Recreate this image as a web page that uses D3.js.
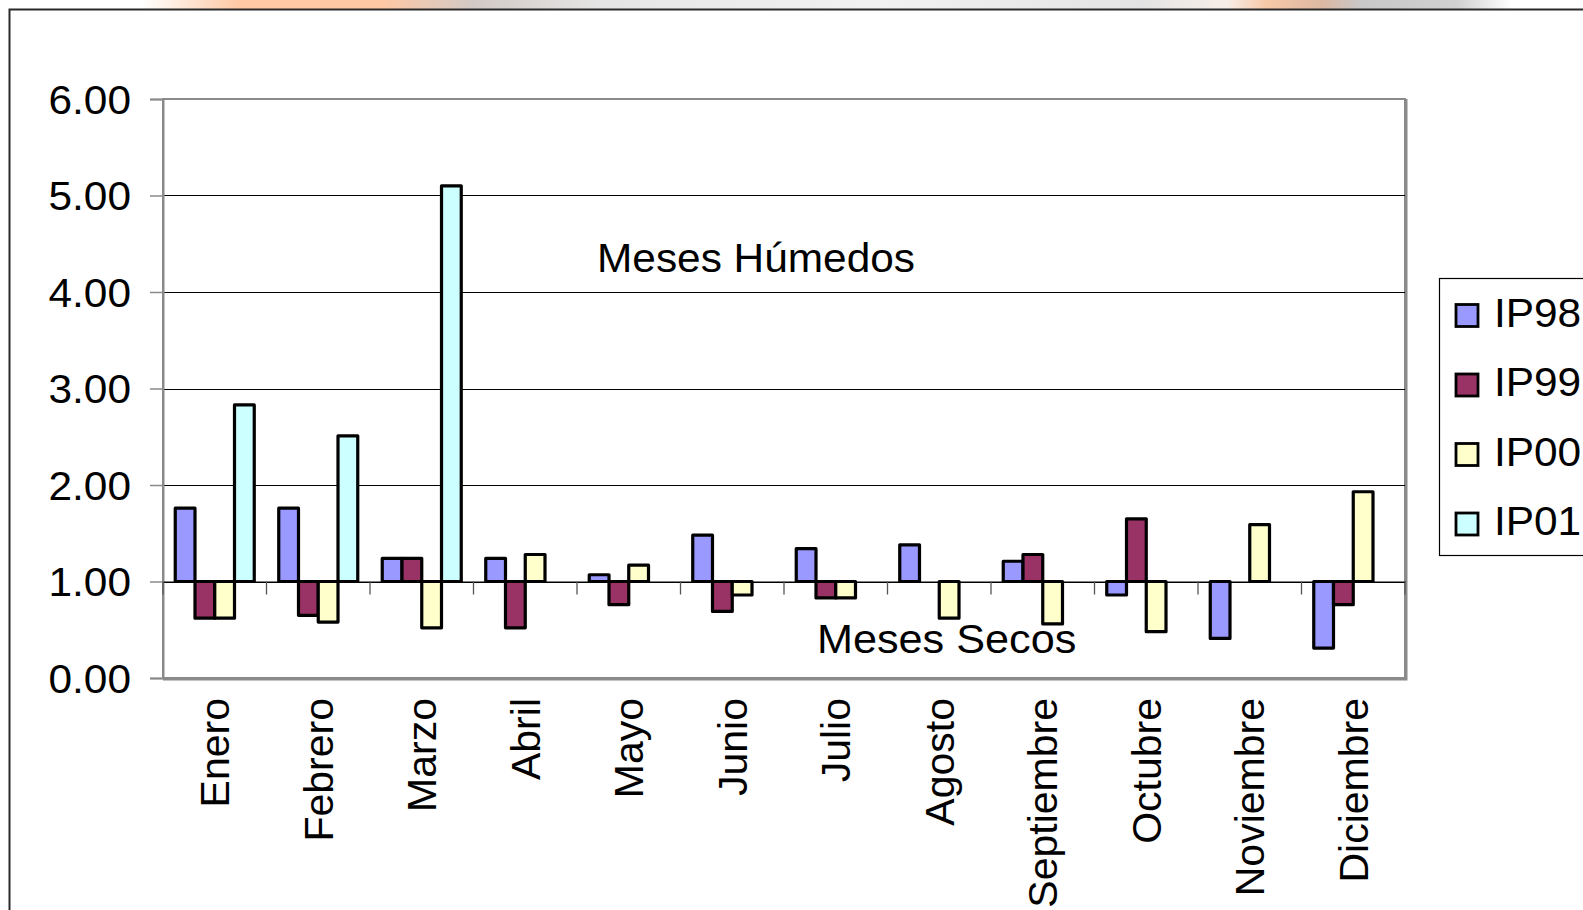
<!DOCTYPE html>
<html>
<head>
<meta charset="utf-8">
<script src="https://cdn.jsdelivr.net/npm/d3@7/dist/d3.min.js"></script>
<style>
  html, body { margin: 0; padding: 0; background: #ffffff; }
  svg { display: block; }
  text { font-family: "Liberation Sans", Arial, "DejaVu Sans", sans-serif; fill: #000; }
</style>
</head>
<body>
<svg id="chart" width="1583" height="910"></svg>
<script>
// Monthly precipitation indices (IP) per year, ratio to the monthly mean
const months = ["Enero", "Febrero", "Marzo", "Abril", "Mayo", "Junio",
                "Julio", "Agosto", "Septiembre", "Octubre", "Noviembre", "Diciembre"];
const seriesNames = ["IP98", "IP99", "IP00", "IP01"];
const ip98 = [1.76, 1.76, 1.24, 1.24, 1.07, 1.48, 1.34, 1.38, 1.21, 0.86, 0.41, 0.31];
const ip99 = [0.62, 0.65, 1.24, 0.52, 0.76, 0.69, 0.83, null, 1.28, 1.65, null, 0.76];
const ip00 = [0.62, 0.58, 0.52, 1.28, 1.17, 0.86, 0.83, 0.62, 0.56, 0.48, 1.59, 1.93];
const ip01 = [2.83, 2.51, 5.10, null, null, null, null, null, null, null, null, null];
const seriesColors = ["#9999FF", "#993366", "#FFFFCC", "#CCFFFF"];
const yTicks = [0, 1, 2, 3, 4, 5, 6];
const yTickLabels = ["0.00", "1.00", "2.00", "3.00", "4.00", "5.00", "6.00"];
const baseValue = 1;   // bars grow up or down from the 1.00 line
const notes = [
  { text: "Meses Húmedos", x: 597, y: 272, sx: 1.06 },
  { text: "Meses Secos",   x: 817, y: 653, sx: 1.08 }
];

const values = [ip98, ip99, ip00, ip01];
const TEXT_SX = 1.06;   // horizontal stretch of the chart lettering

const svg = d3.select("#chart");
const W = 1583, H = 910;

// ---- background strip with soft gradient above the frame ----
const defs = svg.append("defs");
const grad = defs.append("linearGradient").attr("id", "topStrip")
  .attr("x1", "0").attr("x2", "1").attr("y1", "0").attr("y2", "0");
[
  [0.00, "#ffffff"], [0.09, "#ffffff"], [0.15, "#ffc9a6"], [0.24, "#ffc8a4"],
  [0.30, "#d2cac6"], [0.38, "#e6e6e6"], [0.55, "#f2f2f2"], [0.72, "#e4e4e4"],
  [0.775, "#f6eee8"], [0.80, "#f8c8a8"], [0.835, "#dcb8a2"], [0.86, "#c8c8c8"],
  [0.92, "#d0d0d0"], [0.955, "#ffffff"], [1.00, "#ffffff"]
].forEach(([o, c]) => grad.append("stop").attr("offset", o).attr("stop-color", c));
svg.append("rect").attr("x", 0).attr("y", 0).attr("width", W).attr("height", 9)
  .attr("fill", "url(#topStrip)");

// outer frame (open to the right and bottom)
svg.append("path").attr("d", `M9.5,${H} V9.5 H${W}`)
  .attr("fill", "none").attr("stroke", "#2a2a2a").attr("stroke-width", 2);

// ---- scales ----
const plot = { left: 163, right: 1405, top: 99, bottom: 678 };
const y = d3.scaleLinear().domain([0, 6]).range([plot.bottom, plot.top]);
const x0 = d3.scaleBand().domain(months).range([plot.left, plot.right]).padding(0);
const x1 = d3.scaleBand().domain(seriesNames).range([0, x0.bandwidth()])
  .paddingInner(0).paddingOuter(0.62);

// ---- plot area ----
svg.append("rect")
  .attr("x", plot.left).attr("y", plot.top)
  .attr("width", plot.right - plot.left).attr("height", plot.bottom - plot.top)
  .attr("fill", "#ffffff").attr("stroke", "#8a8a8a").attr("stroke-width", 2);
svg.append("path")
  .attr("d", `M${plot.right + 1},${plot.top} V${plot.bottom + 1} H${plot.left}`)
  .attr("fill", "none").attr("stroke", "#8a8a8a").attr("stroke-width", 3);

// horizontal gridlines
svg.append("g").selectAll("line")
  .data(yTicks.filter(v => v > 0 && v < 6))
  .join("line")
  .attr("x1", plot.left).attr("x2", plot.right)
  .attr("y1", d => Math.round(y(d)) + 0.5).attr("y2", d => Math.round(y(d)) + 0.5)
  .attr("stroke", "#000").attr("stroke-width", 1);

// value axis
const yAxis = d3.axisLeft(y).tickValues(yTicks).tickSize(13).tickPadding(0)
  .tickFormat((d, i) => yTickLabels[i]);
const gy = svg.append("g").attr("transform", `translate(${plot.left},0)`).call(yAxis);
gy.select(".domain").attr("stroke", "#8a8a8a").attr("stroke-width", 2);
gy.selectAll(".tick line").attr("stroke", "#8a8a8a").attr("stroke-width", 1.5);
gy.selectAll(".tick text")
  .attr("x", 0).attr("dy", "0.35em")
  .attr("text-anchor", "end")
  .style("font-size", "40px")
  .attr("transform", `translate(-32,0) scale(${TEXT_SX},1)`);

// ---- bars ----
const rows = months.map((m, i) => ({
  month: m,
  items: seriesNames.map((s, j) => ({ series: s, value: values[j][i], color: seriesColors[j] }))
}));

const groups = svg.append("g").selectAll("g")
  .data(rows).join("g")
  .attr("transform", d => `translate(${x0(d.month)},0)`);

groups.selectAll("rect")
  .data(d => d.items.filter(it => it.value !== null && it.value !== baseValue))
  .join("rect")
  .attr("x", d => x1(d.series))
  .attr("width", x1.bandwidth())
  .attr("y", d => Math.min(y(d.value), y(baseValue)))
  .attr("height", d => Math.abs(y(d.value) - y(baseValue)))
  .attr("fill", d => d.color)
  .attr("stroke", "#000").attr("stroke-width", 3.2)
  .attr("stroke-linejoin", "round");

// category axis crossing at 1.00
const xAxis = d3.axisBottom(x0).tickSize(0).tickFormat("");
const gx = svg.append("g").attr("transform", `translate(0,${y(baseValue)})`).call(xAxis);
gx.select(".domain").attr("stroke", "#000").attr("stroke-width", 1.2);
// boundary tick marks between months
const boundaries = months.map(m => x0(m)).concat([plot.right]);
svg.append("g").selectAll("line")
  .data(boundaries).join("line")
  .attr("x1", d => d).attr("x2", d => d)
  .attr("y1", y(baseValue)).attr("y2", y(baseValue) + 13)
  .attr("stroke", "#555").attr("stroke-width", 1.3);

// month labels, rotated, below the plot
svg.append("g").selectAll("text")
  .data(months).join("text")
  .attr("transform", d => `translate(${x0(d) + x0.bandwidth() / 2},698) rotate(-90)`)
  .attr("text-anchor", "end")
  .attr("dy", "0.35em")
  .style("font-size", "41px")
  .text(d => d);

// annotations
svg.append("g").selectAll("text")
  .data(notes).join("text")
  .attr("transform", d => `translate(${d.x},${d.y}) scale(${d.sx},1)`)
  .style("font-size", "40px")
  .text(d => d.text);

// ---- legend ----
const legend = svg.append("g");
legend.append("rect")
  .attr("x", 1439.5).attr("y", 278.5).attr("width", 200).attr("height", 277)
  .attr("fill", "#ffffff").attr("stroke", "#000").attr("stroke-width", 1.2);
const legendY = d3.scalePoint().domain(seriesNames).range([315.5, 524]);
const items = legend.selectAll("g.item")
  .data(seriesNames.map((s, j) => ({ name: s, color: seriesColors[j] })))
  .join("g").attr("class", "item");
items.append("rect")
  .attr("x", 1456).attr("y", d => legendY(d.name) - 11)
  .attr("width", 22).attr("height", 22)
  .attr("fill", d => d.color).attr("stroke", "#000").attr("stroke-width", 2.8);
items.append("text")
  .attr("transform", d => `translate(1494,${legendY(d.name) - 3}) scale(${TEXT_SX},1)`)
  .attr("dy", "0.35em")
  .style("font-size", "40px")
  .text(d => d.name);
</script>
</body>
</html>
